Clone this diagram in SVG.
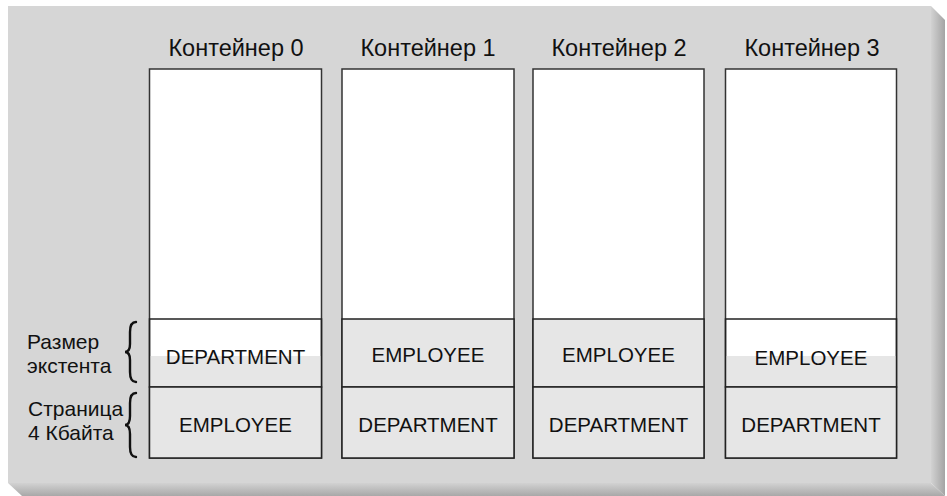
<svg xmlns="http://www.w3.org/2000/svg" width="947" height="496" viewBox="0 0 947 496">
<defs>
<linearGradient id="side" x1="0" y1="0" x2="1" y2="0">
<stop offset="0" stop-color="#d2d2d2"/>
<stop offset="1" stop-color="#a4a4a4"/>
</linearGradient>
<linearGradient id="bottom" x1="0" y1="0" x2="0" y2="1">
<stop offset="0" stop-color="#d2d2d2"/>
<stop offset="1" stop-color="#a8a8a8"/>
</linearGradient>
<style>
.box{fill:#ffffff;stroke:#333333;stroke-width:1.5}
.cell{fill:#e6e6e6;stroke:#222222;stroke-width:1.5}
.ext{fill:none;stroke:#222222;stroke-width:1.5}
.head{font-family:"Liberation Sans",Arial,sans-serif;font-size:23.5px;fill:#111111;text-anchor:middle}
.lbl{font-family:"Liberation Sans",Arial,sans-serif;font-size:20.5px;fill:#111111;text-anchor:middle}
.side{font-family:"Liberation Sans",Arial,sans-serif;font-size:21px;fill:#111111}
.brace{fill:none;stroke:#111111;stroke-width:2.4;stroke-linecap:round}
</style>
</defs>
<g id="panel">
<rect x="8" y="6" width="923" height="477" fill="#d6d6d6"/>
<polygon points="931,6 945,20 945,496 931,483" fill="url(#side)"/>
<polygon points="8,483 931,483 945,496 22,496" fill="url(#bottom)"/>
</g>
<g id="labels">
<text class="side" x="27" y="349">Размер</text>
<text class="side" x="27" y="373">экстента</text>
<text class="side" x="28" y="416">Страница</text>
<text class="side" x="28" y="440">4 Кбайта</text>
<path class="brace" d="M136,322 C131,322 130,326 130,332 L130,344 C130,349 129,352 125,352 C129,352 130,355 130,360 L130,372 C130,378 131,382 136,382"/>
<path class="brace" d="M136,393 C131,393 130,397 130,403 L130,416 C130,421 129,425 125,425 C129,425 130,429 130,434 L130,447 C130,453 131,457 136,457"/>
</g>
<g id="container0">
<text class="head" x="236" y="56">Контейнер 0</text>
<rect class="box" x="149.5" y="69" width="172" height="389"/>
<rect x="150" y="356" width="171" height="31" fill="#e6e6e6"/>
<rect class="ext" x="149.5" y="319" width="172" height="68"/>
<rect class="cell" x="149.5" y="387" width="172" height="71"/>
<text class="lbl" x="235.5" y="364">DEPARTMENT</text>
<text class="lbl" x="235.5" y="432">EMPLOYEE</text>
</g>
<g id="container1">
<text class="head" x="428" y="56">Контейнер 1</text>
<rect class="box" x="342" y="69" width="172" height="389"/>
<rect class="cell" x="342" y="319" width="172" height="68"/>
<rect class="cell" x="342" y="387" width="172" height="71"/>
<text class="lbl" x="428" y="362">EMPLOYEE</text>
<text class="lbl" x="428" y="432">DEPARTMENT</text>
</g>
<g id="container2">
<text class="head" x="619" y="56">Контейнер 2</text>
<rect class="box" x="533" y="69" width="171" height="389"/>
<rect class="cell" x="533" y="319" width="171" height="68"/>
<rect class="cell" x="533" y="387" width="171" height="71"/>
<text class="lbl" x="618.5" y="362">EMPLOYEE</text>
<text class="lbl" x="618.5" y="432">DEPARTMENT</text>
</g>
<g id="container3">
<text class="head" x="812" y="56">Контейнер 3</text>
<rect class="box" x="725.5" y="69" width="171" height="389"/>
<rect x="726" y="356" width="170" height="31" fill="#e6e6e6"/>
<rect class="ext" x="725.5" y="319" width="171" height="68"/>
<rect class="cell" x="725.5" y="387" width="171" height="71"/>
<text class="lbl" x="811" y="365">EMPLOYEE</text>
<text class="lbl" x="811" y="432">DEPARTMENT</text>
</g>
</svg>
